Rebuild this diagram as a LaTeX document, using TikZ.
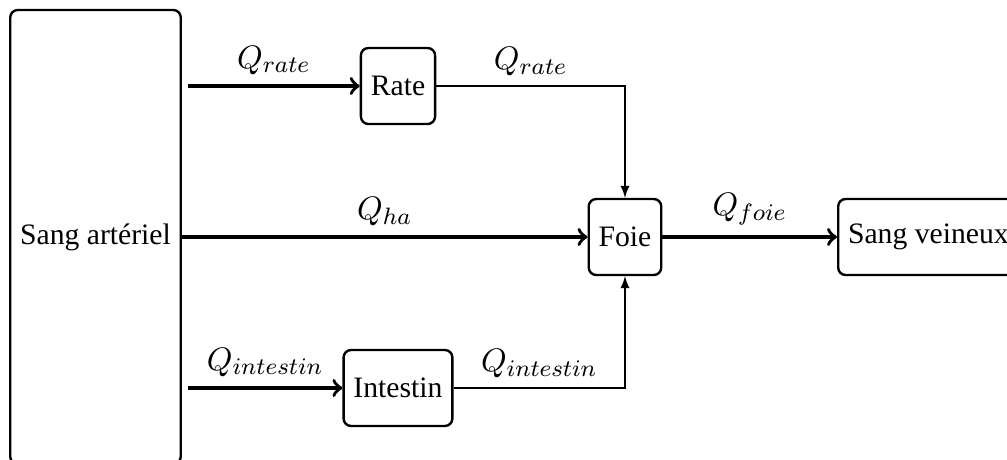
\documentclass[tikz,border=0pt]{standalone}
\usepackage{fontspec}
\setmainfont{Liberation Serif}
\usetikzlibrary{arrows}
\begin{document}
\begin{tikzpicture}[x=0.337pt,y=-0.337pt,
  organ/.style={draw, thick, rounded corners=2.5pt, minimum height=25.6pt, inner sep=3.33pt},
  flow/.style={very thick, ->},
  drain/.style={thin, -latex},
  lbl/.style={above, font=\fontsize{11}{13}\selectfont}]
\useasboundingbox (0,0) rectangle (1007,459);
% compartments
\node[organ, minimum height=153pt] (sang) at (95.5,237) {Sang artériel};
\node[organ] (rate) at (398,86) {Rate};
\node[organ] (intestin) at (398,388) {Intestin};
\node[organ] (foie) at (625,237) {Foie};
\node[organ, anchor=west] (veine) at (837,237) {Sang veineux};
% inflow starting points next to the arterial compartment
\coordinate (ratein) at (188,86);
\coordinate (intin) at (188,388);
% blood flows
\draw[flow] (ratein) -- node[lbl] {$Q_{rate}$} (rate.west);
\draw[flow] (intin) -- node[lbl] {$Q_{intestin}$} (intestin.west);
\draw[flow] (sang.east) -- node[lbl] {$Q_{ha}$} (foie.west);
\draw[flow] (foie.east) -- node[lbl] {$Q_{foie}$} (veine.west);
\draw[drain] (rate.east) -| node[lbl, pos=0.25] {$Q_{rate}$} (foie.north);
\draw[drain] (intestin.east) -| node[lbl, pos=0.25] {$Q_{intestin}$} (foie.south);
\end{tikzpicture}
\end{document}
